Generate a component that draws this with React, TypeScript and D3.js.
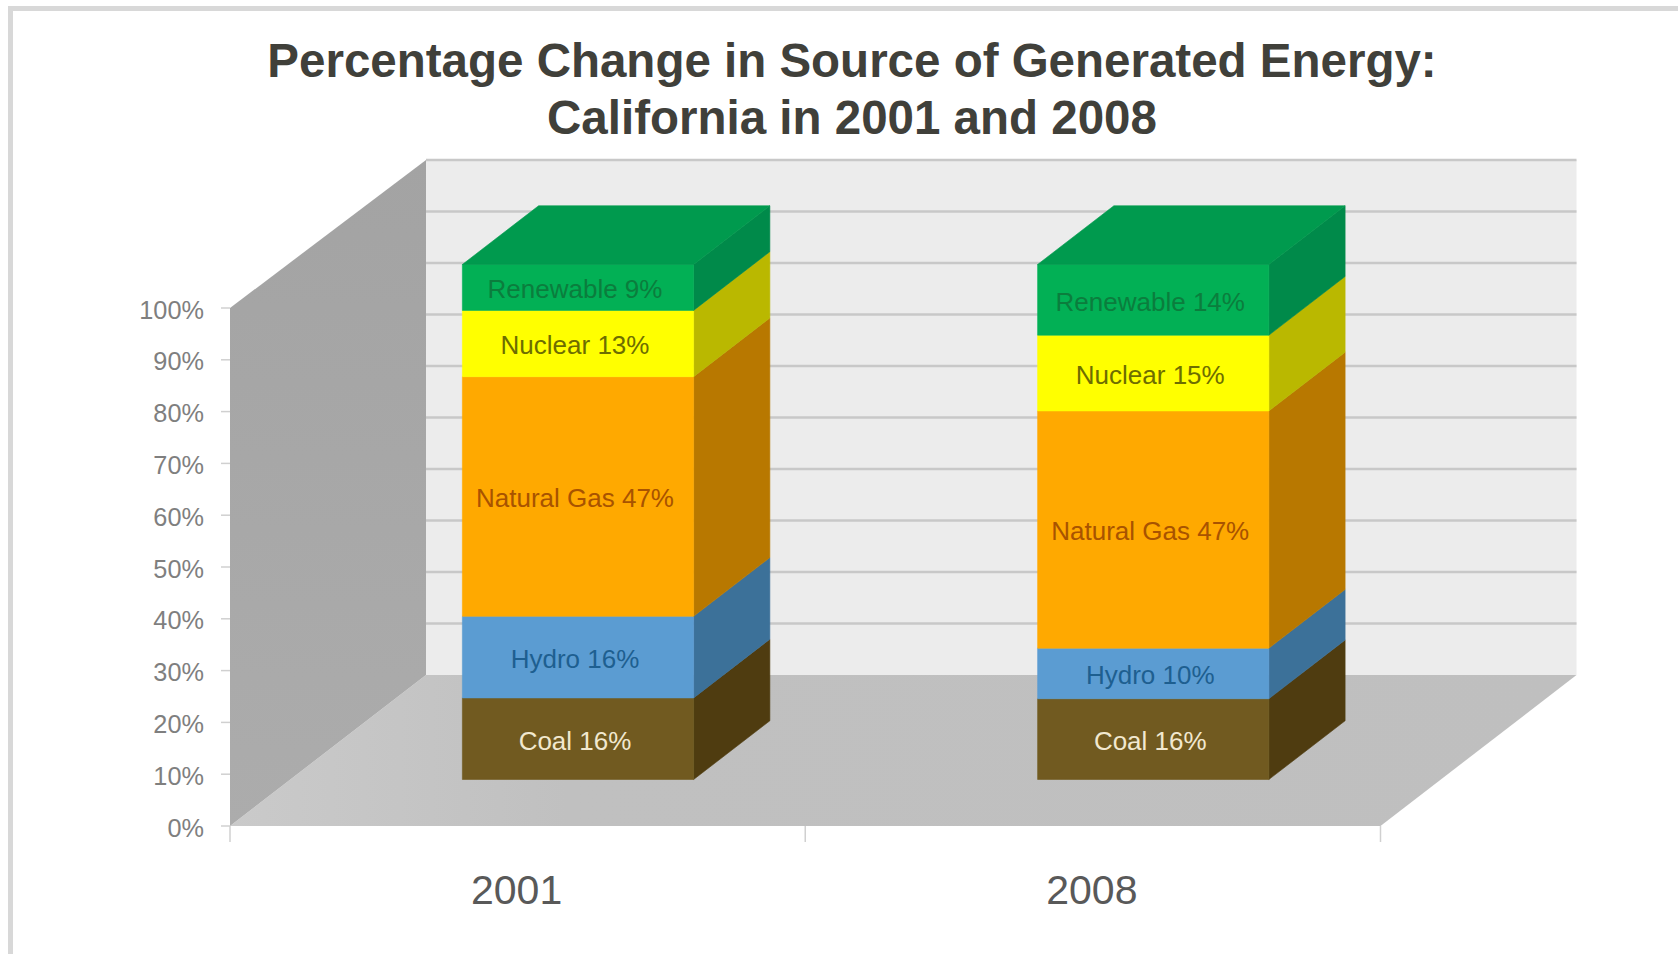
import React from "react";
import * as d3 from "d3";

const years = ["2001", "2008"];
const sources = ["Coal", "Hydro", "Natural Gas", "Nuclear", "Renewable"];
const coal = [16, 16];
const hydro = [16, 10];
const naturalGas = [47, 47];
const nuclear = [13, 15];
const renewable = [9, 14];
const seriesValues = [coal, hydro, naturalGas, nuclear, renewable];

const frontColors = ["#715a20", "#5b9cd2", "#ffa900", "#ffff00", "#02b055"];
const sideColors = ["#4f3c10", "#3c7199", "#b87800", "#bab800", "#008a4a"];
const labelColors = ["#f1e8cf", "#1e5f90", "#a85300", "#6d6d00", "#0b7d3d"];
const topColor = "#009a4e";

const titleLines = [
  "Percentage Change in Source of Generated Energy:",
  "California in 2001 and 2008",
];

const width = 1678;
const height = 954;
const plotLeft = 230;
const plotRight = 1380.5;
const plotBottom = 826;
const plotTop = 308;
const innerTop = 311;
const depthX = 196;
const depthY = 151;
const barDepthFront = 0.308;
const barDepthBack = 0.697;
const barShare = 0.402;

const font = "'Liberation Sans', Arial, sans-serif";

// Oblique projection: z = 0 is the front of the floor, z = 1 the back wall.
const x = d3.scaleBand<string>().domain(years).range([plotLeft, plotRight]);
const y = d3.scaleLinear().domain([0, 1]).range([plotBottom, plotTop]);
// The wall and columns sit slightly further away, so their unit height is a little shorter.
const yInner = d3.scaleLinear().domain([0, 1]).range([plotBottom, innerTop]);
const px = (xv: number, z: number) => xv + z * depthX;
const py = (v: number, z: number) => yInner(v) - z * depthY;

const poly = d3.line<[number, number]>();
const face = (pts: [number, number][]) => poly(pts) + "Z";

// 100% stack: every column is normalised to its own total.
const rows = years.map((year, i) => {
  const row: Record<string, number | string> = { year };
  sources.forEach((s, j) => (row[s] = seriesValues[j][i]));
  return row;
});
const stacked = d3
  .stack<Record<string, number | string>>()
  .keys(sources)
  .value((d, k) => d[k] as number)
  .offset(d3.stackOffsetExpand)(rows);

const yTicks = d3.range(0, 11).map((d) => d / 10);

function Column({ index }: { index: number }) {
  const centre = (x(years[index]) as number) + x.bandwidth() / 2;
  const half = (x.bandwidth() * barShare) / 2;
  const xl = centre - half;
  const xr = centre + half;
  const frontX = barDepthFront;
  const backX = barDepthBack;
  return (
    <g>
      {stacked.map((layer, j) => {
        const [v0, v1] = layer[index];
        return (
          <g key={sources[j]}>
            <path
              d={face([
                [px(xr, frontX), py(v0, frontX)],
                [px(xr, backX), py(v0, backX)],
                [px(xr, backX), py(v1, backX)],
                [px(xr, frontX), py(v1, frontX)],
              ])}
              fill={sideColors[j]}
              stroke={sideColors[j]}
              strokeWidth={0.6}
            />
            <path
              d={face([
                [px(xl, frontX), py(v0, frontX)],
                [px(xr, frontX), py(v0, frontX)],
                [px(xr, frontX), py(v1, frontX)],
                [px(xl, frontX), py(v1, frontX)],
              ])}
              fill={frontColors[j]}
              stroke={frontColors[j]}
              strokeWidth={0.6}
            />
          </g>
        );
      })}
      <path
        d={face([
          [px(xl, frontX), py(1, frontX)],
          [px(xr, frontX), py(1, frontX)],
          [px(xr, backX), py(1, backX)],
          [px(xl, backX), py(1, backX)],
        ])}
        fill={topColor}
        stroke={topColor}
        strokeWidth={0.6}
      />
      {stacked.map((layer, j) => {
        const [v0, v1] = layer[index];
        return (
          <text
            key={sources[j]}
            x={px(centre, frontX) - 3}
            y={py((v0 + v1) / 2, frontX)}
            dy="0.42em"
            textAnchor="middle"
            fontFamily={font}
            fontSize={26}
            fill={labelColors[j]}
          >
            {`${sources[j]} ${seriesValues[j][index]}%`}
          </text>
        );
      })}
    </g>
  );
}

export default function App() {
  const backLeft = px(plotLeft, 1);
  const backRight = px(plotRight, 1);
  return (
    <svg
      width={width}
      height={height}
      viewBox={`0 0 ${width} ${height}`}
      style={{ position: "absolute", left: 0, top: 0, display: "block", background: "#fff" }}
    >
      <defs>
        <linearGradient id="sideWall" x1="0" y1="0" x2="0" y2="1">
          <stop offset="0" stopColor="#a3a3a3" />
          <stop offset="1" stopColor="#acacac" />
        </linearGradient>
        <linearGradient id="floor" x1="0" y1="0" x2="1" y2="0">
          <stop offset="0" stopColor="#cacaca" />
          <stop offset="0.25" stopColor="#c0c0c0" />
          <stop offset="1" stopColor="#bfbfbf" />
        </linearGradient>
      </defs>

      {/* slide frame */}
      <rect x={10.5} y={8.5} width={1680} height={960} fill="#fff" stroke="#d8d8d8" strokeWidth={5} />

      {/* chart title */}
      {titleLines.map((line, i) => (
        <text
          key={line}
          x={852}
          y={76.5 + i * 57}
          textAnchor="middle"
          fontFamily={font}
          fontWeight={700}
          fontSize={47.5}
          fill="#40403a"
        >
          {line}
        </text>
      ))}

      {/* back wall and its gridlines */}
      <path
        d={face([
          [backLeft, py(0, 1)],
          [backRight, py(0, 1)],
          [backRight, py(1, 1)],
          [backLeft, py(1, 1)],
        ])}
        fill="#ececec"
      />
      {yTicks.slice(1).map((t) => (
        <line
          key={t}
          x1={backLeft}
          x2={backRight}
          y1={py(t, 1)}
          y2={py(t, 1)}
          stroke="#c8c8c8"
          strokeWidth={2.5}
        />
      ))}

      {/* floor */}
      <path
        d={face([
          [px(plotLeft, 0), py(0, 0)],
          [px(plotRight, 0), py(0, 0)],
          [px(plotRight, 1), py(0, 1)],
          [px(plotLeft, 1), py(0, 1)],
        ])}
        fill="url(#floor)"
      />

      {/* left side wall */}
      <path
        d={face([
          [px(plotLeft, 0), y(0)],
          [px(plotLeft, 1), py(0, 1)],
          [px(plotLeft, 1), py(1, 1)],
          [px(plotLeft, 0), y(1)],
        ])}
        fill="url(#sideWall)"
      />

      {/* value axis */}
      {yTicks.map((t) => (
        <g key={t}>
          <line x1={plotLeft - 9} x2={plotLeft} y1={y(t)} y2={y(t)} stroke="#d0d0d0" strokeWidth={1.5} />
          <text
            x={204}
            y={y(t)}
            dy="0.42em"
            textAnchor="end"
            fontFamily={font}
            fontSize={25.3}
            fill="#7f7f7f"
          >
            {d3.format(".0%")(t)}
          </text>
        </g>
      ))}

      {/* category axis */}
      {[0, 1, 2].map((i) => {
        const tx = plotLeft + i * x.bandwidth();
        return (
          <line key={i} x1={tx} x2={tx} y1={plotBottom} y2={plotBottom + 16} stroke="#d0d0d0" strokeWidth={1.5} />
        );
      })}
      {years.map((year) => (
        <text
          key={year}
          x={(x(year) as number) + x.bandwidth() / 2 - 1}
          y={903.5}
          textAnchor="middle"
          fontFamily={font}
          fontSize={41}
          fill="#595959"
        >
          {year}
        </text>
      ))}

      {years.map((year, i) => (
        <Column key={year} index={i} />
      ))}
    </svg>
  );
}
